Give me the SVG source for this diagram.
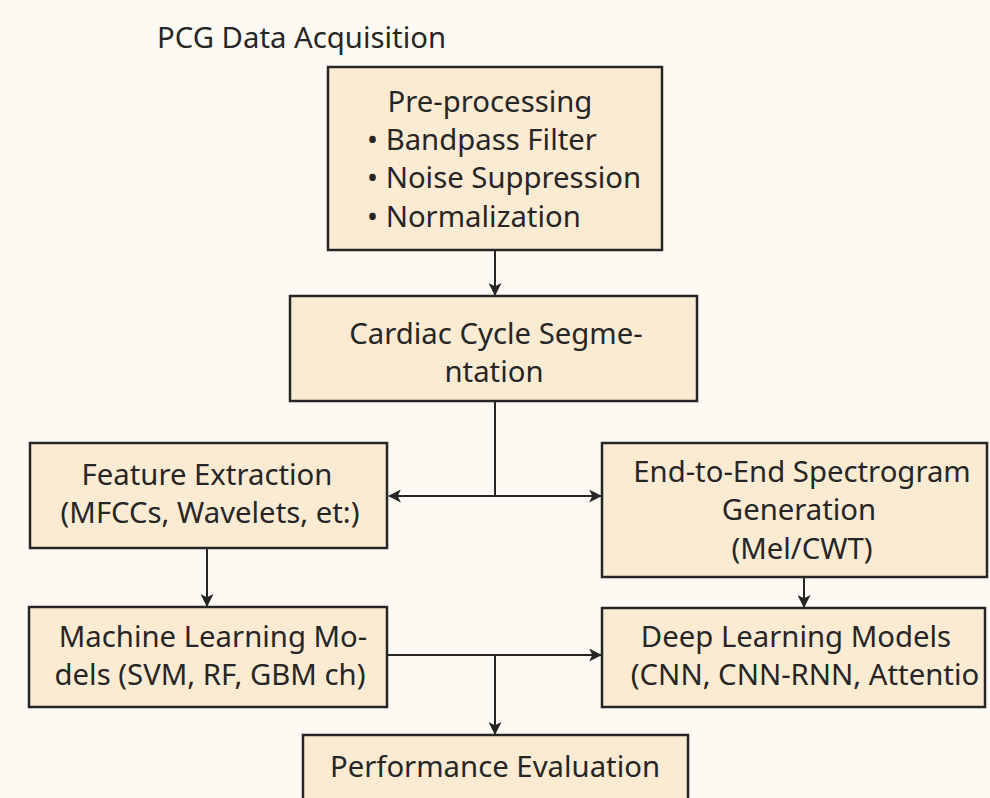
<svg xmlns="http://www.w3.org/2000/svg" width="990" height="798" viewBox="0 0 990 798">
<style>
.box{fill:#fcebd3;stroke:#262626;stroke-width:2.5}
.t{font-family:"Noto Sans","DejaVu Sans",sans-serif;font-size:29.3px;fill:#262626}
.m{text-anchor:middle}
.c{fill:none;stroke:#262626;stroke-width:2}
</style>
<defs>
<marker id="ah" viewBox="0 0 12 12" refX="11" refY="6" markerWidth="13" markerHeight="13" markerUnits="userSpaceOnUse" orient="auto">
<path d="M0,0 L12,6 L0,12 L3,6 Z" fill="#262626"/>
</marker>
</defs>
<rect width="990" height="798" fill="#fdfaf3"/>
<text id="title" class="t" x="157" y="48">PCG Data Acquisition</text>
<g id="preprocessing">
<rect class="box" x="328" y="67" width="334" height="183"/>
<text class="t m" x="490" y="112">Pre-processing</text>
<text class="t" x="367" y="150">• Bandpass Filter</text>
<text class="t" x="367" y="188">• Noise Suppression</text>
<text class="t" x="367" y="227">• Normalization</text>
</g>
<g id="segmentation">
<rect class="box" x="290" y="296" width="407" height="105"/>
<text class="t m" x="496" y="344">Cardiac Cycle Segme-</text>
<text class="t m" x="494" y="382">ntation</text>
</g>
<g id="features">
<rect class="box" x="30" y="443" width="357" height="105"/>
<text class="t m" x="207" y="485">Feature Extraction</text>
<text class="t m" x="210" y="523">(MFCCs, Wavelets, et:)</text>
</g>
<g id="spectrogram">
<rect class="box" x="602" y="443" width="385" height="134"/>
<text class="t m" x="802" y="482">End-to-End Spectrogram</text>
<text class="t m" x="799" y="520">Generation</text>
<text class="t m" x="802" y="559">(Mel/CWT)</text>
</g>
<g id="ml">
<rect class="box" x="29" y="607" width="358" height="100"/>
<text class="t m" x="213" y="647">Machine Learning Mo-</text>
<text class="t m" x="210" y="685">dels (SVM, RF, GBM ch)</text>
</g>
<g id="dl">
<rect class="box" x="602" y="608" width="383" height="99"/>
<text class="t m" x="796" y="647">Deep Learning Models</text>
<text class="t m" x="805" y="685">(CNN, CNN-RNN, Attentio</text>
</g>
<g id="evaluation">
<rect class="box" x="303" y="735" width="385" height="70"/>
<text class="t m" x="495" y="777">Performance Evaluation</text>
</g>
<g id="connectors">
<path class="c" d="M495,250 V295" marker-end="url(#ah)"/>
<path class="c" d="M495,401 V496 H389" marker-end="url(#ah)"/>
<path class="c" d="M495,496 H601" marker-end="url(#ah)"/>
<path class="c" d="M207,548 V606" marker-end="url(#ah)"/>
<path class="c" d="M804,577 V607" marker-end="url(#ah)"/>
<path class="c" d="M387,655 H601" marker-end="url(#ah)"/>
<path class="c" d="M495,655 V734" marker-end="url(#ah)"/>
</g>
</svg>
